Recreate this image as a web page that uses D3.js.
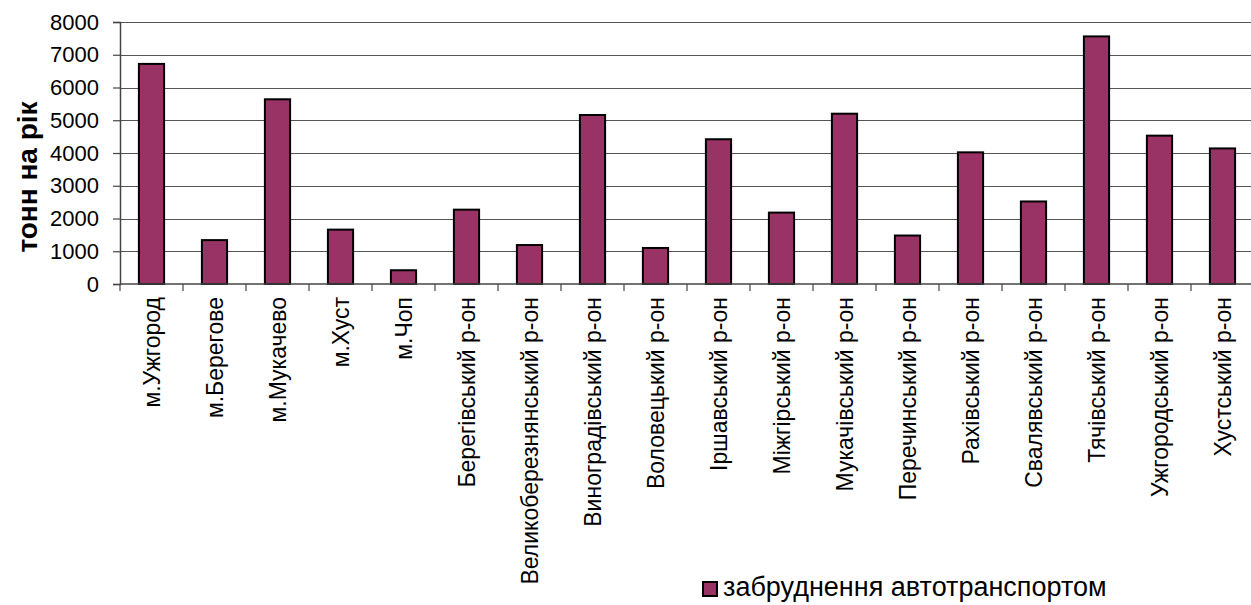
<!DOCTYPE html>
<html>
<head>
<meta charset="utf-8">
<script src="https://cdn.jsdelivr.net/npm/d3@7"></script>
<style>
  html, body { margin: 0; padding: 0; background: #fff; }
  svg { display: block; font-family: Arial, "Liberation Sans", sans-serif; }
</style>
</head>
<body>
<svg id="chart" width="1251" height="605"></svg>
<script>
// Emissions from motor transport by district, tonnes per year
const categories = [
  "м.Ужгород", "м.Берегове", "м.Мукачево", "м.Хуст", "м.Чоп",
  "Берегівський р-он", "Великоберезнянський р-он", "Виноградівський р-он",
  "Воловецький р-он", "Іршавський р-он", "Міжгірський р-он", "Мукачівський р-он",
  "Перечинський р-он", "Рахівський р-он", "Свалявський р-он", "Тячівський р-он",
  "Ужгородський р-он", "Хустський р-он"
];
const values = [
  6720, 1340, 5640, 1660, 420,
  2270, 1190, 5160,
  1100, 4420, 2180, 5200,
  1480, 4020, 2520, 7560,
  4530, 4140
];
const yTicks = [0, 1000, 2000, 3000, 4000, 5000, 6000, 7000, 8000];
const seriesName = "забруднення автотранспортом";
const yTitle = "тонн на рік";

const svg = d3.select("#chart");
const plot = { left: 120, right: 1254, top: 22, bottom: 284 };

const x = d3.scaleBand()
  .domain(categories)
  .range([plot.left, plot.right])
  .paddingInner(0.6)
  .paddingOuter(0.3);

const y = d3.scaleLinear()
  .domain([0, 8000])
  .range([plot.bottom, plot.top]);

// horizontal gridlines
svg.append("g")
  .selectAll("line")
  .data(yTicks.filter(d => d > 0))
  .join("line")
  .attr("x1", plot.left)
  .attr("x2", plot.right)
  .attr("y1", d => Math.round(y(d)) + 0.5)
  .attr("y2", d => Math.round(y(d)) + 0.5)
  .attr("stroke", "#555")
  .attr("stroke-width", 1.2);

// bars
svg.append("g")
  .selectAll("rect")
  .data(values)
  .join("rect")
  .attr("x", (d, i) => x(categories[i]))
  .attr("y", d => y(d))
  .attr("width", x.bandwidth())
  .attr("height", d => y(0) - y(d))
  .attr("fill", "#993366")
  .attr("stroke", "#000")
  .attr("stroke-width", 2);

// y axis
const yAxis = d3.axisLeft(y)
  .tickValues(yTicks)
  .tickSize(7)
  .tickPadding(14)
  .tickFormat(d3.format("d"));
const gy = svg.append("g")
  .attr("transform", `translate(${plot.left},0)`)
  .call(yAxis);
gy.select(".domain").attr("stroke", "#444").attr("stroke-width", 1.5);
gy.selectAll(".tick line").attr("stroke", "#444").attr("stroke-width", 1.2);
gy.selectAll(".tick text")
  .attr("font-size", 22)
  .attr("fill", "#000")
  .attr("font-family", "Arial, 'Liberation Sans', sans-serif");

// x axis: ticks on category boundaries
const boundaries = d3.range(categories.length + 1)
  .map(i => plot.left + i * x.step());
const gx = svg.append("g");
gx.append("line")
  .attr("x1", plot.left).attr("x2", plot.right)
  .attr("y1", plot.bottom).attr("y2", plot.bottom)
  .attr("stroke", "#444").attr("stroke-width", 1.5);
gx.selectAll("line.tick")
  .data(boundaries)
  .join("line")
  .attr("class", "tick")
  .attr("x1", d => d).attr("x2", d => d)
  .attr("y1", plot.bottom).attr("y2", plot.bottom + 7)
  .attr("stroke", "#444").attr("stroke-width", 1.2);

// rotated category labels
gx.selectAll("text")
  .data(categories)
  .join("text")
  .attr("transform", d => `translate(${x(d) + x.bandwidth() / 2 + 8},297) rotate(-90)`)
  .attr("text-anchor", "end")
  .attr("font-size", 23)
  .attr("fill", "#000")
  .text(d => d);

// y axis title
svg.append("text")
  .attr("transform", `translate(37,177) rotate(-90)`)
  .attr("text-anchor", "middle")
  .attr("font-size", 28)
  .attr("font-weight", "bold")
  .attr("fill", "#000")
  .text(yTitle);

// legend
const legend = svg.append("g").attr("transform", "translate(703,582)");
legend.append("rect")
  .attr("width", 14).attr("height", 14)
  .attr("fill", "#993366")
  .attr("stroke", "#000")
  .attr("stroke-width", 2);
legend.append("text")
  .attr("x", 20).attr("y", 14)
  .attr("font-size", 27)
  .attr("fill", "#000")
  .text(seriesName);
</script>
</body>
</html>
